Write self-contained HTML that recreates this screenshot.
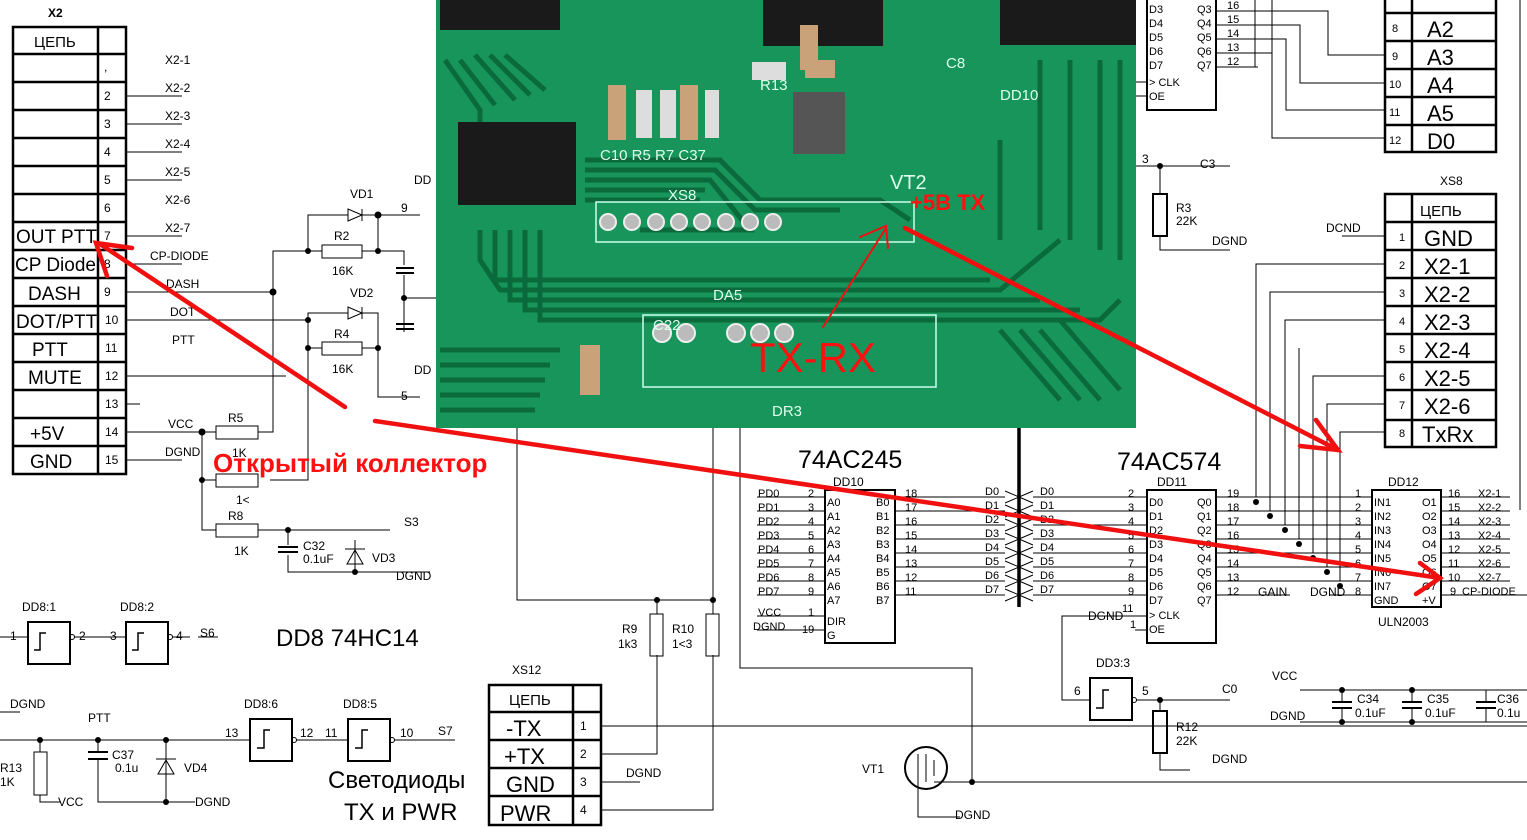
<!DOCTYPE html>
<html><head><meta charset="utf-8"><style>
html,body{margin:0;padding:0;background:#fff;width:1527px;height:840px;overflow:hidden}
svg{display:block}
text{font-family:"Liberation Sans",sans-serif}
.s{font-size:12px}
.m{font-size:19px}
.b{font-size:22px}
.pl text{fill:#dfe}
.red{fill:#ff1010}
</style></head><body>
<svg width="1527" height="840" viewBox="0 0 1527 840" xmlns="http://www.w3.org/2000/svg">
<g stroke="#000" fill="none" stroke-width="1">
<rect x="13" y="27" width="113" height="447" stroke-width="2.5"/>
<line x1="98" y1="27" x2="98" y2="474" stroke-width="2.5"/>
<g stroke-width="2.5">
<line x1="13" y1="54" x2="126" y2="54"/><line x1="13" y1="82" x2="126" y2="82"/><line x1="13" y1="110" x2="126" y2="110"/><line x1="13" y1="138" x2="126" y2="138"/><line x1="13" y1="166" x2="126" y2="166"/><line x1="13" y1="194" x2="126" y2="194"/><line x1="13" y1="222" x2="126" y2="222"/><line x1="13" y1="250" x2="126" y2="250"/><line x1="13" y1="278" x2="126" y2="278"/><line x1="13" y1="306" x2="126" y2="306"/><line x1="13" y1="334" x2="126" y2="334"/><line x1="13" y1="362" x2="126" y2="362"/><line x1="13" y1="390" x2="126" y2="390"/><line x1="13" y1="418" x2="126" y2="418"/><line x1="13" y1="446" x2="126" y2="446"/>
</g>
<line x1="126" y1="96" x2="182" y2="96"/><line x1="126" y1="124" x2="182" y2="124"/><line x1="126" y1="152" x2="182" y2="152"/><line x1="126" y1="180" x2="182" y2="180"/><line x1="126" y1="236" x2="182" y2="236"/><line x1="126" y1="264" x2="182" y2="264"/>
<line x1="126" y1="292" x2="273" y2="292"/><line x1="126" y1="320" x2="308" y2="320"/><line x1="126" y1="376" x2="286" y2="376"/><line x1="126" y1="404" x2="140" y2="404"/>
<line x1="126" y1="432" x2="216" y2="432"/><line x1="126" y1="460" x2="182" y2="460"/>
<path d="M273 292 V251 H308 V215 H348 M362 215 H420 M308 251 H322 M362 251 H378 V215 M378 251 H404 V265 M404 275 V332 M404 298 H436"/>
<rect x="322" y="245" width="40" height="13"/>
<path d="M348 209 V221 L362 215 Z M362 209 V221" />
<line x1="396" y1="268" x2="414" y2="268" stroke-width="2"/><line x1="396" y1="273" x2="414" y2="273" stroke-width="2"/>
<line x1="396" y1="324" x2="414" y2="324" stroke-width="2"/><line x1="396" y1="329" x2="414" y2="329" stroke-width="2"/>
<path d="M308 320 V313 H348 M362 313 H378 V397 H420 M308 348 H322 M362 348 H378 M308 313 V480 H270 M273 292 V432 H258"/>
<rect x="322" y="342" width="40" height="13"/>
<path d="M348 307 V319 L362 313 Z M362 307 V319"/>
<rect x="216" y="426" width="42" height="13"/>
<path d="M202 432 V530 H216 M202 480 H216 M258 530 H390 M288 530 V545 M288 555 V572 H355 M355 540 V572 H430"/>
<rect x="216" y="474" width="42" height="13"/>
<rect x="216" y="524" width="42" height="13"/>
<line x1="278" y1="547" x2="298" y2="547" stroke-width="2"/><line x1="278" y1="552" x2="298" y2="552" stroke-width="2"/>
<path d="M347 564 L355 550 L363 564 Z M345 549 H365"/>
<rect x="28" y="622" width="42" height="42" stroke-width="2"/><rect x="126" y="622" width="42" height="42" stroke-width="2"/>
<path d="M0 637 H28 M74 637 H126 M172 637 H190 M198 637 H218"/>
<circle cx="72" cy="637" r="2.5"/><circle cx="170" cy="637" r="2.5"/>
<path d="M34 650 H40 V633 H46 M132 650 H138 V633 H144" stroke-width="1.5"/>
<rect x="250" y="719" width="42" height="42" stroke-width="2"/><rect x="348" y="719" width="42" height="42" stroke-width="2"/>
<circle cx="294" cy="740" r="2.5"/><circle cx="392" cy="740" r="2.5"/>
<path d="M257 748 H264 V730 H270 M355 748 H362 V730 H368" stroke-width="1.5"/>
<path d="M0 740 H250 M296 740 H348 M394 740 H455 M0 712 H20 M40 740 V752 M40 795 V802 H60 M98 740 V752 M98 760 V802 H195 M166 740 V802"/>
<rect x="34" y="752" width="13" height="43"/>
<line x1="88" y1="752" x2="108" y2="752" stroke-width="2"/><line x1="88" y1="759" x2="108" y2="759" stroke-width="2"/>
<path d="M158 774 L166 760 L174 774 Z M156 759 H176"/>
<rect x="489" y="685" width="112" height="140" stroke-width="2.5"/>
<line x1="573" y1="685" x2="573" y2="825" stroke-width="2.5"/>
<path d="M489 712 H601 M489 740 H601 M489 768 H601 M489 796 H601" stroke-width="2.5"/>
<path d="M601 726 H1527 M601 754 H657 V655 M601 782 H640 M601 810 H713 V655 M517 428 V600 H713 M657 600 V614 M713 428 V614"/>
<rect x="650" y="614" width="13" height="42"/><rect x="706" y="614" width="13" height="42"/>
<circle cx="926" cy="768" r="21" stroke-width="2"/>
<path d="M918 754 V782 M926 754 V782 M934 760 V776 M740 428 V668 H972 V782 M918 782 V817 H960 M934 782 H1527"/>
<rect x="825" y="490" width="70" height="153" stroke-width="2"/>
<path d="M757 497 H825 M757 511 H825 M757 525 H825 M757 539 H825 M757 553 H825 M757 567 H825 M757 581 H825 M757 595 H825 M757 616 H825 M757 630 H825 M895 497 H1005 M895 511 H1005 M895 525 H1005 M895 539 H1005 M895 553 H1005 M895 567 H1005 M895 581 H1005 M895 595 H1005"/>
<path d="M1033 497 H1147 M1033 511 H1147 M1033 525 H1147 M1033 539 H1147 M1033 553 H1147 M1033 567 H1147 M1033 581 H1147 M1033 595 H1147"/>
<line x1="1019" y1="428" x2="1019" y2="607" stroke-width="3.5"/>
<path d="M1005 491 L1019 497 L1005 503 M1033 491 L1019 497 L1033 503 M1005 505 L1019 511 L1005 517 M1033 505 L1019 511 L1033 517 M1005 519 L1019 525 L1005 531 M1033 519 L1019 525 L1033 531 M1005 533 L1019 539 L1005 545 M1033 533 L1019 539 L1033 545 M1005 547 L1019 553 L1005 559 M1033 547 L1019 553 L1033 559 M1005 561 L1019 567 L1005 573 M1033 561 L1019 567 L1033 573 M1005 575 L1019 581 L1005 587 M1033 575 L1019 581 L1033 587 M1005 589 L1019 595 L1005 601 M1033 589 L1019 595 L1033 601"/>
<rect x="1147" y="490" width="69" height="153" stroke-width="2"/>
<path d="M1216 497 H1372 M1216 511 H1372 M1216 525 H1372 M1216 539 H1372 M1216 553 H1372 M1216 567 H1372 M1216 581 H1372 M1216 595 H1290 M1330 595 H1372 M1147 616 H1062 V700 H1090 M1147 630 H1135"/>
<path d="M1256 497 V264 H1385 M1270 511 V292 H1385 M1285 525 V320 H1385 M1299 539 V348 M1313 553 V376 H1385 M1327 567 V404 H1385 M1340 581 V432 H1385"/>
<rect x="1372" y="490" width="69" height="117" stroke-width="2"/>
<path d="M1441 497 H1510 M1441 511 H1510 M1441 525 H1510 M1441 539 H1510 M1441 553 H1510 M1441 567 H1510 M1441 581 H1510 M1441 595 H1527"/>
<line x1="1520" y1="0" x2="1520" y2="510"/>
<rect x="1147" y="-5" width="69" height="115" stroke-width="2"/>
<path d="M1216 11 H1328 V55 H1385 M1216 25 H1300 V83 H1385 M1216 39 H1286 V110 H1385 M1216 53 H1272 V138 H1385 M1216 67 H1258 M1136 82 H1147 M1136 96 H1147 M1255 0 V67 M1272 0 V55"/>
<rect x="1385" y="-5" width="111" height="157" stroke-width="2.5"/>
<path d="M1412 -5 V152 M1385 13 H1496 M1385 41 H1496 M1385 69 H1496 M1385 97 H1496 M1385 125 H1496" stroke-width="2.5"/>
<path d="M1136 166 H1230 M1160 166 V194 M1160 236 V250 H1230"/>
<rect x="1153" y="194" width="14" height="42" stroke-width="2"/>
<rect x="1385" y="194" width="111" height="253" stroke-width="2.5"/>
<path d="M1412 194 V447 M1385 222 H1496 M1385 250 H1496 M1385 278 H1496 M1385 306 H1496 M1385 334 H1496 M1385 362 H1496 M1385 390 H1496 M1385 420 H1496" stroke-width="2.5"/>
<path d="M1342 236 H1385"/>
<rect x="1090" y="678" width="42" height="42" stroke-width="2"/>
<circle cx="1134" cy="700" r="2.5"/>
<path d="M1096 708 H1103 V690 H1109" stroke-width="1.5"/>
<path d="M1136 700 H1230 M1160 700 V711 M1160 753 V770 H1190"/>
<rect x="1153" y="711" width="14" height="42" stroke-width="2"/>
<path d="M1300 690 H1527 M1342 690 V702 M1342 708 V722 M1412 690 V702 M1412 708 V722 M1486 690 V702 M1486 708 V722 M1300 722 H1527"/>
<path d="M1332 702 H1352 M1332 708 H1352 M1402 702 H1422 M1402 708 H1422 M1476 702 H1496 M1476 708 H1496" stroke-width="2"/>
</g>
<g fill="#000">
<circle cx="273" cy="292" r="3.5"/><circle cx="308" cy="251" r="3"/><circle cx="378" cy="215" r="3.5"/><circle cx="378" cy="251" r="3"/><circle cx="404" cy="298" r="3"/><circle cx="308" cy="320" r="3"/><circle cx="308" cy="348" r="3"/><circle cx="378" cy="348" r="3"/><circle cx="202" cy="432" r="3.5"/><circle cx="202" cy="480" r="3"/><circle cx="288" cy="530" r="3"/><circle cx="355" cy="572" r="3"/>
<circle cx="40" cy="740" r="3"/><circle cx="98" cy="740" r="3"/><circle cx="166" cy="740" r="3"/><circle cx="166" cy="802" r="3"/>
<circle cx="657" cy="600" r="3"/><circle cx="713" cy="600" r="3"/><circle cx="972" cy="782" r="3"/>
<circle cx="1256" cy="502" r="3"/><circle cx="1270" cy="516" r="3"/><circle cx="1285" cy="530" r="3"/><circle cx="1299" cy="544" r="3"/><circle cx="1313" cy="558" r="3"/><circle cx="1327" cy="572" r="3"/><circle cx="1340" cy="586" r="3"/>
<circle cx="1160" cy="166" r="3"/><circle cx="1160" cy="700" r="3"/><circle cx="1342" cy="690" r="3"/><circle cx="1412" cy="690" r="3"/><circle cx="1342" cy="722" r="3"/><circle cx="1412" cy="722" r="3"/>
</g>
<text x="48" y="17" class="s" font-weight="bold">X2</text>
<text x="34" y="47" style="font-size:15px">ЦЕПЬ</text>
<g class="s">
<text x="104" y="71">,</text><text x="104" y="100">2</text><text x="104" y="128">3</text><text x="104" y="156">4</text><text x="104" y="184">5</text><text x="104" y="212">6</text><text x="104" y="240">7</text><text x="104" y="268">8</text><text x="104" y="296">9</text><text x="105" y="324">10</text><text x="105" y="352">11</text><text x="105" y="380">12</text><text x="105" y="408">13</text><text x="105" y="436">14</text><text x="105" y="464">15</text>
<text x="165" y="64">X2-1</text><text x="165" y="92">X2-2</text><text x="165" y="120">X2-3</text><text x="165" y="148">X2-4</text><text x="165" y="176">X2-5</text><text x="165" y="204">X2-6</text><text x="165" y="232">X2-7</text>
<text x="150" y="260">CP-DIODE</text><text x="166" y="288">DASH</text><text x="170" y="316">DOT</text><text x="172" y="344">PTT</text><text x="168" y="428">VCC</text><text x="165" y="456">DGND</text>
<text x="350" y="198">VD1</text><text x="334" y="240">R2</text><text x="332" y="275">16K</text><text x="350" y="297">VD2</text><text x="334" y="338">R4</text><text x="332" y="373">16K</text><text x="401" y="212">9</text><text x="401" y="400">5</text><text x="414" y="184">DD</text><text x="414" y="374">DD</text>
<text x="228" y="422">R5</text><text x="232" y="457">1K</text><text x="236" y="504">1&lt;</text><text x="228" y="520">R8</text><text x="234" y="555">1K</text>
<text x="303" y="550">C32</text><text x="303" y="563">0.1uF</text><text x="372" y="562">VD3</text><text x="404" y="526">S3</text><text x="396" y="580">DGND</text>
<text x="22" y="611">DD8:1</text><text x="120" y="611">DD8:2</text><text x="10" y="640">1</text><text x="79" y="640">2</text><text x="110" y="640">3</text><text x="176" y="640">4</text><text x="200" y="637">S6</text>
<text x="10" y="708">DGND</text><text x="88" y="722">PTT</text><text x="0" y="772">R13</text><text x="0" y="786">1K</text><text x="58" y="806">VCC</text><text x="112" y="759">C37</text><text x="115" y="772">0.1u</text><text x="184" y="772">VD4</text><text x="195" y="806">DGND</text>
<text x="244" y="708">DD8:6</text><text x="343" y="708">DD8:5</text><text x="225" y="737">13</text><text x="300" y="737">12</text><text x="325" y="737">11</text><text x="400" y="737">10</text><text x="438" y="735">S7</text>
<text x="512" y="674">XS12</text><text x="580" y="730">1</text><text x="580" y="758">2</text><text x="580" y="786">3</text><text x="580" y="814">4</text><text x="626" y="777">DGND</text>
<text x="622" y="633">R9</text><text x="618" y="648">1k3</text><text x="672" y="633">R10</text><text x="672" y="648">1&lt;3</text><text x="862" y="773">VT1</text><text x="955" y="819">DGND</text>
<text x="833" y="486">DD10</text><text x="1157" y="486">DD11</text><text x="1388" y="486">DD12</text><text x="1378" y="626">ULN2003</text>
<text x="1200" y="168">C3</text><text x="1142" y="163">3</text><text x="1176" y="212">R3</text><text x="1176" y="225">22K</text><text x="1212" y="245">DGND</text><text x="1326" y="232">DCND</text><text x="1440" y="185">XS8</text>
<text x="1088" y="620">DGND</text><text x="1096" y="667">DD3:3</text><text x="1074" y="695">6</text><text x="1142" y="695">5</text><text x="1222" y="693">C0</text><text x="1176" y="731">R12</text><text x="1176" y="745">22K</text><text x="1212" y="763">DGND</text>
<text x="1272" y="680">VCC</text><text x="1270" y="720">DGND</text><text x="1357" y="703">C34</text><text x="1355" y="717">0.1uF</text><text x="1427" y="703">C35</text><text x="1425" y="717">0.1uF</text><text x="1497" y="703">C36</text><text x="1497" y="717">0.1u</text>
<text x="1258" y="596">GAIN</text><text x="1310" y="596">DGND</text>
</g>
<g style="font-size:11px">
<text x="758" y="497">PD0</text><text x="758" y="511">PD1</text><text x="758" y="525">PD2</text><text x="758" y="539">PD3</text><text x="758" y="553">PD4</text><text x="758" y="567">PD5</text><text x="758" y="581">PD6</text><text x="758" y="595">PD7</text><text x="758" y="616">VCC</text><text x="753" y="630">DGND</text>
<text x="808" y="497">2</text><text x="808" y="511">3</text><text x="808" y="525">4</text><text x="808" y="539">5</text><text x="808" y="553">6</text><text x="808" y="567">7</text><text x="808" y="581">8</text><text x="808" y="595">9</text><text x="808" y="616">1</text><text x="802" y="633">19</text>
<text x="827" y="506">A0</text><text x="827" y="520">A1</text><text x="827" y="534">A2</text><text x="827" y="548">A3</text><text x="827" y="562">A4</text><text x="827" y="576">A5</text><text x="827" y="590">A6</text><text x="827" y="604">A7</text><text x="827" y="625">DIR</text><text x="827" y="639">G</text>
<text x="876" y="506">B0</text><text x="876" y="520">B1</text><text x="876" y="534">B2</text><text x="876" y="548">B3</text><text x="876" y="562">B4</text><text x="876" y="576">B5</text><text x="876" y="590">B6</text><text x="876" y="604">B7</text>
<text x="905" y="497">18</text><text x="905" y="511">17</text><text x="905" y="525">16</text><text x="905" y="539">15</text><text x="905" y="553">14</text><text x="905" y="567">13</text><text x="905" y="581">12</text><text x="905" y="595">11</text>
<text x="985" y="495">D0</text><text x="985" y="509">D1</text><text x="985" y="523">D2</text><text x="985" y="537">D3</text><text x="985" y="551">D4</text><text x="985" y="565">D5</text><text x="985" y="579">D6</text><text x="985" y="593">D7</text>
<text x="1040" y="495">D0</text><text x="1040" y="509">D1</text><text x="1040" y="523">D2</text><text x="1040" y="537">D3</text><text x="1040" y="551">D4</text><text x="1040" y="565">D5</text><text x="1040" y="579">D6</text><text x="1040" y="593">D7</text>
<text x="1128" y="497">2</text><text x="1128" y="511">3</text><text x="1128" y="525">4</text><text x="1128" y="539">5</text><text x="1128" y="553">6</text><text x="1128" y="567">7</text><text x="1128" y="581">8</text><text x="1128" y="595">9</text><text x="1122" y="612">11</text><text x="1130" y="628">1</text>
<text x="1149" y="506">D0</text><text x="1149" y="520">D1</text><text x="1149" y="534">D2</text><text x="1149" y="548">D3</text><text x="1149" y="562">D4</text><text x="1149" y="576">D5</text><text x="1149" y="590">D6</text><text x="1149" y="604">D7</text><text x="1149" y="619">&gt; CLK</text><text x="1149" y="633">OE</text>
<text x="1197" y="506">Q0</text><text x="1197" y="520">Q1</text><text x="1197" y="534">Q2</text><text x="1197" y="548">Q3</text><text x="1197" y="562">Q4</text><text x="1197" y="576">Q5</text><text x="1197" y="590">Q6</text><text x="1197" y="604">Q7</text>
<text x="1227" y="497">19</text><text x="1227" y="511">18</text><text x="1227" y="525">17</text><text x="1227" y="539">16</text><text x="1227" y="553">15</text><text x="1227" y="567">14</text><text x="1227" y="581">13</text><text x="1227" y="595">12</text>
<text x="1355" y="497">1</text><text x="1355" y="511">2</text><text x="1355" y="525">3</text><text x="1355" y="539">4</text><text x="1355" y="553">5</text><text x="1355" y="567">6</text><text x="1355" y="581">7</text><text x="1355" y="595">8</text>
<text x="1374" y="506">IN1</text><text x="1374" y="520">IN2</text><text x="1374" y="534">IN3</text><text x="1374" y="548">IN4</text><text x="1374" y="562">IN5</text><text x="1374" y="576">IN6</text><text x="1374" y="590">IN7</text><text x="1374" y="604">GND</text>
<text x="1422" y="506">O1</text><text x="1422" y="520">O2</text><text x="1422" y="534">O3</text><text x="1422" y="548">O4</text><text x="1422" y="562">O5</text><text x="1422" y="576">O6</text><text x="1422" y="590">O7</text><text x="1422" y="604">+V</text>
<text x="1448" y="497">16</text><text x="1448" y="511">15</text><text x="1448" y="525">14</text><text x="1448" y="539">13</text><text x="1448" y="553">12</text><text x="1448" y="567">11</text><text x="1448" y="581">10</text><text x="1450" y="595">9</text>
<text x="1478" y="497">X2-1</text><text x="1478" y="511">X2-2</text><text x="1478" y="525">X2-3</text><text x="1478" y="539">X2-4</text><text x="1478" y="553">X2-5</text><text x="1478" y="567">X2-6</text><text x="1478" y="581">X2-7</text><text x="1462" y="595">CP-DIODE</text>
<text x="1149" y="13">D3</text><text x="1149" y="27">D4</text><text x="1149" y="41">D5</text><text x="1149" y="55">D6</text><text x="1149" y="69">D7</text><text x="1149" y="86">&gt; CLK</text><text x="1149" y="100">OE</text>
<text x="1197" y="13">Q3</text><text x="1197" y="27">Q4</text><text x="1197" y="41">Q5</text><text x="1197" y="55">Q6</text><text x="1197" y="69">Q7</text>
<text x="1227" y="9">16</text><text x="1227" y="23">15</text><text x="1227" y="37">14</text><text x="1227" y="51">13</text><text x="1227" y="65">12</text>
<text x="1392" y="32">8</text><text x="1392" y="60">9</text><text x="1389" y="88">10</text><text x="1389" y="116">11</text><text x="1389" y="144">12</text>
<text x="1399" y="241">1</text><text x="1399" y="269">2</text><text x="1399" y="297">3</text><text x="1399" y="325">4</text><text x="1399" y="353">5</text><text x="1399" y="381">6</text><text x="1399" y="409">7</text><text x="1399" y="437">8</text>
</g>
<g class="m">
<text x="16" y="243">OUT PTT</text><text x="15" y="271">CP Diode</text><text x="28" y="300">DASH</text><text x="16" y="328">DOT/PTT</text><text x="32" y="356">PTT</text><text x="28" y="384">MUTE</text><text x="30" y="440">+5V</text><text x="30" y="468">GND</text>
</g>
<text x="1420" y="216" style="font-size:15px">ЦЕПЬ</text>
<g class="b">
<text x="1427" y="37">A2</text><text x="1427" y="65">A3</text><text x="1427" y="93">A4</text><text x="1427" y="121">A5</text><text x="1427" y="149">D0</text>
<text x="1424" y="246">GND</text><text x="1424" y="274">X2-1</text><text x="1424" y="302">X2-2</text><text x="1424" y="330">X2-3</text><text x="1424" y="358">X2-4</text><text x="1424" y="386">X2-5</text><text x="1424" y="414">X2-6</text><text x="1422" y="442">TxRx</text>
<text x="506" y="736">-TX</text><text x="504" y="764">+TX</text><text x="506" y="792">GND</text><text x="500" y="821">PWR</text>
</g>
<text x="509" y="705" style="font-size:15px">ЦЕПЬ</text>
<text x="798" y="468" style="font-size:25px">74AC245</text>
<text x="1117" y="470" style="font-size:25px">74AC574</text>
<text x="276" y="646" style="font-size:24px">DD8 74HC14</text>
<text x="328" y="788" style="font-size:24px">Светодиоды</text>
<text x="344" y="820" style="font-size:24px">TX и PWR</text>
<!-- Photo -->
<rect x="436" y="0" width="700" height="428" fill="#17955a"/>
<g fill="none" stroke="#0b6a3b" stroke-width="5">
<path d="M445 60 L480 110 L480 150 M460 60 L495 105 M475 55 L515 100 M490 55 L530 95 M505 55 L545 90"/>
<path d="M585 160 H720 L760 200 H880 L910 220 M585 170 H715 L755 210 H840 M585 180 H710 L750 230 H640 M585 190 H705 M585 200 H700"/>
<path d="M480 230 V260 L500 290 H1000 L1060 240 M495 230 V280 H990 M510 230 V300 H1040 M525 230 V310 H1080 M540 230 V320 H1100 L1120 300"/>
<path d="M1000 240 V140 M1040 230 V60 M1070 240 V60 M1100 250 V60 M1120 260 V60"/>
<path d="M440 350 H560 M440 365 H550 M440 380 H545 M440 395 H540 M440 410 H535"/>
<path d="M1000 330 L1060 400 M1020 330 L1080 400 M1040 330 L1100 400 M1060 320 L1120 390"/>
</g>
<g fill="#1a1a1a">
<rect x="458" y="122" width="118" height="83"/>
<rect x="440" y="0" width="120" height="30"/>
<rect x="763" y="0" width="120" height="46"/>
<rect x="1000" y="0" width="136" height="45"/>
<rect x="793" y="92" width="52" height="62" fill="#555"/>
</g>
<g fill="#c9a27a">
<rect x="608" y="85" width="18" height="55"/><rect x="680" y="85" width="18" height="55"/><rect x="800" y="25" width="18" height="45"/><rect x="805" y="60" width="30" height="18"/><rect x="580" y="345" width="20" height="50"/>
</g>
<g fill="#ddd">
<rect x="636" y="90" width="16" height="48"/><rect x="660" y="90" width="16" height="48"/><rect x="705" y="90" width="14" height="48"/><rect x="752" y="62" width="34" height="18"/>
</g>
<rect x="596" y="202" width="318" height="40" fill="none" stroke="#cfe" stroke-width="1.5"/>
<rect x="643" y="315" width="293" height="72" fill="none" stroke="#cfe" stroke-width="1.5"/>
<g fill="#bbb" stroke="#eee" stroke-width="2">
<circle cx="608" cy="222" r="8"/><circle cx="632" cy="222" r="8"/><circle cx="656" cy="222" r="8"/><circle cx="679" cy="222" r="8"/><circle cx="702" cy="222" r="8"/><circle cx="726" cy="222" r="8"/><circle cx="750" cy="222" r="8"/><circle cx="773" cy="222" r="8"/>
<circle cx="662" cy="333" r="9"/><circle cx="686" cy="333" r="9"/><circle cx="736" cy="333" r="9"/><circle cx="760" cy="333" r="9"/><circle cx="784" cy="333" r="9"/>
</g>
<g class="pl" style="font-size:15px">
<text x="600" y="160">C10 R5 R7 C37</text><text x="890" y="189" style="font-size:20px">VT2</text><text x="668" y="200">XS8</text><text x="1000" y="100">DD10</text><text x="713" y="300">DA5</text><text x="653" y="330">C22</text><text x="772" y="416">DR3</text><text x="760" y="90">R13</text><text x="946" y="68">C8</text>
</g>
<text x="910" y="210" class="red" style="font-size:22px;font-weight:bold">+5B TX</text>
<text x="750" y="372" class="red" style="font-size:42px">TX-RX</text>
<g stroke="#f01010" fill="none" stroke-linecap="round">
<line x1="823" y1="327" x2="886" y2="228" stroke-width="2"/>
<path d="M860 237 L886 226 L888 248" stroke-width="2"/>
<line x1="345" y1="407" x2="100" y2="244" stroke-width="4.5"/>
<path d="M132 248 L96 243 L107 276" stroke-width="4.5"/>
<line x1="375" y1="421" x2="1440" y2="578" stroke-width="4.5"/>
<path d="M1420 563 L1440 578 L1416 594" stroke-width="4.5"/>
<line x1="905" y1="228" x2="1338" y2="450" stroke-width="4.5"/>
<path d="M1316 420 L1338 450 L1300 446" stroke-width="4.5"/>
</g>
<text x="213" y="472" class="red" style="font-size:26px;font-weight:bold">Открытый коллектор</text>
</svg>
</body></html>
